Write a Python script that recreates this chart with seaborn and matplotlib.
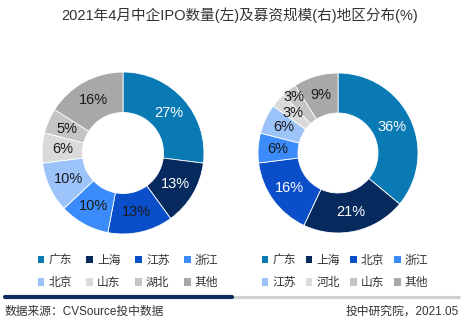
import matplotlib
matplotlib.use("Agg")
import matplotlib.pyplot as plt
from matplotlib.patches import Patch
from matplotlib.lines import Line2D
import numpy as np
import seaborn as sns

sns.set_theme(style="white")
plt.rcParams["font.family"] = ["Noto Sans CJK SC", "DejaVu Sans"]
MIXED = ["Liberation Sans", "Noto Sans CJK SC", "DejaVu Sans"]

# IPO count share by region (left ring)
count_regions = ["广东", "上海", "江苏", "浙江", "北京", "山东", "湖北", "其他"]
count_share = [27, 13, 13, 10, 10, 6, 5, 16]

# Fundraising share by region (right ring)
fund_regions = ["广东", "上海", "北京", "浙江", "江苏", "河北", "山东", "其他"]
fund_share = [36, 21, 16, 6, 6, 3, 3, 9]

ring_colors = ["#0A7AB5", "#062A5E", "#0A4ECA", "#3B8BFA",
               "#9DC3FB", "#DADADA", "#C4C4C4", "#A8A8A8"]

W, H = 469, 329
fig = plt.figure(figsize=(W / 100, H / 100), dpi=100)


def ring(cx, cy, r, values, white_n, label_r=None):
    label_r = label_r or {}
    ax = fig.add_axes([(cx - r) / W, (H - cy - r) / H, 2 * r / W, 2 * r / H])
    ax.pie(values, colors=ring_colors, startangle=90, counterclock=False,
           radius=1, wedgeprops=dict(width=0.5, edgecolor="white", linewidth=0.6))
    total = sum(values)
    start = 90.0
    for i, v in enumerate(values):
        mid = np.deg2rad(start - 360 * v / total / 2)
        start -= 360 * v / total
        rr = label_r.get(i, 0.75)
        ax.text(rr * np.cos(mid), rr * np.sin(mid), f"{v}%",
                ha="center", va="center", fontsize=10.5,
                color="white" if i < white_n else "#1a1a1a",
                family=["Liberation Sans", "DejaVu Sans"])
    ax.set_xlim(-1, 1)
    ax.set_ylim(-1, 1)
    ax.set_aspect("equal")
    ax.axis("off")


ring(123, 153, 81, count_share, 2)
# the second of the two thin 3% slices gets its label nudged outward
ring(338, 153, 80, fund_share, 3, label_r={6: 0.89})


def row_major(items, ncol=4):
    nrow = int(np.ceil(len(items) / ncol))
    return [items[r * ncol + c] for c in range(ncol) for r in range(nrow)]


def region_legend(names, xc, colspace):
    handles = [Patch(facecolor=c, edgecolor="none") for c in ring_colors]
    fig.legend(row_major(handles), row_major(names), ncol=4, frameon=False,
               fontsize=8.5, handlelength=0.55, handleheight=0.55,
               handletextpad=0.35, columnspacing=colspace, labelspacing=0.8,
               loc="center", labelcolor="#333333",
               bbox_to_anchor=(xc / W, 1 - 271.5 / H))


region_legend(count_regions, 128, 1.25)
region_legend(fund_regions, 345, 0.85)

fig.text(240 / W, 1 - 15 / H, "2021年4月中企IPO数量(左)及募资规模(右)地区分布(%)",
         ha="center", va="center", fontsize=10.5, color="#333333", family=MIXED)

# Footer rule
fig.add_artist(Line2D([232 / W, 459 / W], [1 - 296.5 / H] * 2, color="#D0D0D0", lw=2.2))
fig.add_artist(Line2D([5 / W, 232 / W], [1 - 296.5 / H] * 2, color="#0D2B5C", lw=3.0))

fig.text(5 / W, 1 - 311.5 / H, "数据来源：CVSource投中数据", ha="left", va="center",
         fontsize=8.5, color="#333333", family=MIXED)
fig.text(459 / W, 1 - 311.5 / H, "投中研究院，2021.05", ha="right", va="center",
         fontsize=8.5, color="#333333", family=MIXED)

fig.savefig("out.png", dpi=100, facecolor="white")
